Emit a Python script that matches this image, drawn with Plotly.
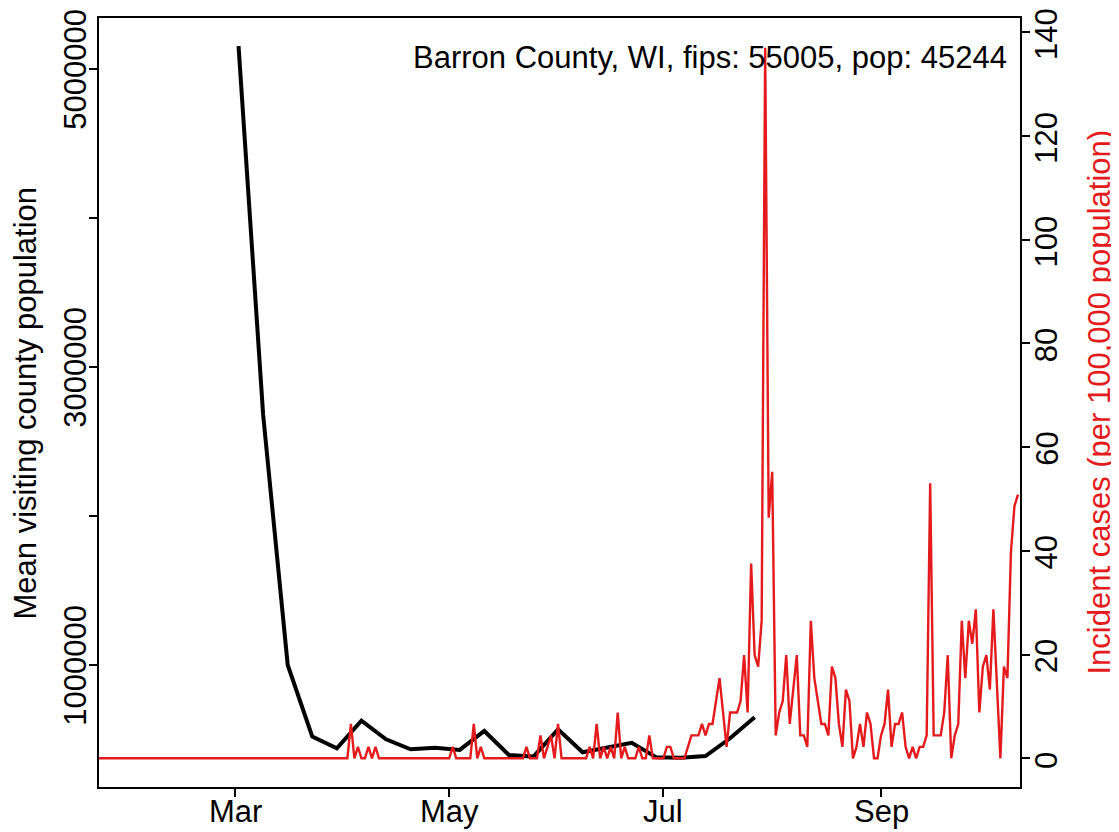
import pandas as pd
import plotly.graph_objects as go

# Weekly mean visiting county population (starting 2020-03-02)
mobility_start = "2020-03-02"
mobility = [5154000, 2680000, 1000000, 519000, 441000, 626000, 501000, 434000,
            445000, 430000, 557000, 396000, 385000, 568000, 414000, 444000,
            478000, 380000, 378000, 389000, 508000, 649000]

# Daily incident cases per 100,000 population (starting 2020-01-22)
cases_start = "2020-01-22"
incidence = [
    0, 0, 0, 0, 0, 0, 0, 0, 0, 0, 0, 0, 0, 0, 0, 0, 0, 0, 0, 0,
    0, 0, 0, 0, 0, 0, 0, 0, 0, 0, 0, 0, 0, 0, 0, 0, 0, 0, 0, 0,
    0, 0, 0, 0, 0, 0, 0, 0, 0, 0, 0, 0, 0, 0, 0, 0, 0, 0, 0, 0,
    0, 0, 0, 0, 0, 0, 0, 0, 0, 0, 0, 0,
    6.63, 0, 2.21, 0, 0, 2.21, 0, 2.21,
    0, 0, 0, 0, 0, 0, 0, 0, 0, 0, 0, 0, 0, 0, 0, 0, 0, 0, 0, 0, 0,
    2.21, 0, 0, 0, 0, 0, 6.63, 0, 2.21,
    0, 0, 0, 0, 0, 0, 0, 0, 0, 0, 0, 0,
    2.21, 0, 0, 0, 4.42, 0, 2.21, 4.42, 0, 6.63,
    0, 0, 0, 0, 0, 0, 0, 0,
    2.21, 0, 6.63, 0, 2.21, 0, 2.21, 0, 8.84, 0, 2.21, 0, 0, 0, 2.21, 0, 0, 4.42,
    0, 0, 0, 0, 2.21, 2.21, 0, 0, 0, 0,
    2.21, 4.42, 4.42, 4.42, 6.63, 4.42, 6.63, 6.63, 11.05, 15.47,
    8.84, 2.21, 8.84, 8.84, 8.84, 11.05, 19.89, 8.84, 37.57, 19.89,
    17.68, 26.52, 137.03, 46.41, 55.26, 4.42, 8.84, 11.05, 19.89, 6.63,
    13.26, 19.89, 4.42, 4.42, 2.21, 26.52, 15.47, 11.05, 6.63, 6.63,
    4.42, 17.68, 15.47, 6.63, 2.21, 13.26, 11.05, 0, 2.21, 6.63,
    2.21, 8.84, 6.63, 0, 0, 4.42, 6.63, 13.26, 2.21, 6.63,
    6.63, 8.84, 2.21, 0, 2.21, 0, 2.21, 2.21, 4.42, 53.05,
    4.42, 4.42, 4.42, 8.84, 19.89, 0, 4.42, 6.63, 26.52, 15.47,
    26.52, 22.10, 28.73, 8.84, 17.68, 19.89, 13.26, 28.73, 15.47, 0,
    17.68, 15.47, 39.78, 48.63, 50.84,
]

title_text = "Barron County, WI, fips: 55005, pop: 45244"
left_title = "Mean visiting county population"
right_title = "Incident cases (per 100,000 population)"
month_ticks = ["2020-03-01", "2020-05-01", "2020-07-01", "2020-09-01"]
month_labels = ["Mar", "May", "Jul", "Sep"]
left_tickvals = [1000000, 2000000, 3000000, 4000000, 5000000]
left_ticktext = ["1000000", "", "3000000", "", "5000000"]
right_tickvals = [0, 20, 40, 60, 80, 100, 120, 140]
right_ticktext = ["0", "20", "40", "60", "80", "100", "120", "140"]

RED = "#E41A1C"
FONT = "Liberation Sans, Arial, Helvetica, sans-serif"
FS = 31

mob_dates = pd.date_range(mobility_start, periods=len(mobility), freq="7D")
case_dates = pd.date_range(cases_start, periods=len(incidence), freq="D")

fig = go.Figure()
fig.add_trace(go.Scatter(x=mob_dates, y=mobility, mode="lines",
                         line=dict(color="black", width=4), yaxis="y",
                         showlegend=False, hoverinfo="skip"))
fig.add_trace(go.Scatter(x=case_dates, y=incidence, mode="lines",
                         line=dict(color=RED, width=2.4), yaxis="y2",
                         showlegend=False, hoverinfo="skip"))

axis_common = dict(showgrid=False, zeroline=False, showline=True,
                   linecolor="black", linewidth=2, ticks="outside",
                   ticklen=8, tickwidth=2, tickcolor="black", automargin=False,
                   showticklabels=False, tickmode="array")

def label(text, xref, yref, x, y, angle=0, color="black", xanchor="center",
          yshift=0):
    return dict(text=text, xref=xref, yref=yref, x=x, y=y, textangle=angle,
                xanchor=xanchor, yanchor="middle", showarrow=False,
                borderpad=0, yshift=yshift,
                font=dict(family=FONT, size=FS, color=color))

annotations = [
    label(title_text, "paper", "paper", 0.987, 0.948, xanchor="right"),
    label(left_title, "paper", "paper", -0.0793, 0.5, angle=-90),
    label(right_title, "paper", "paper", 1.0858, 0.5, angle=-90, color=RED),
]
for tv, tl in zip(month_ticks, month_labels):
    annotations.append(label(tl, "x", "paper", tv, -0.032))
for tv, tl in zip(left_tickvals, left_ticktext):
    if tl:
        annotations.append(label(tl, "paper", "y", -0.0252, tv, angle=-90))
for tv, tl in zip(right_tickvals, right_ticktext):
    annotations.append(label(tl, "paper", "y2", 1.0290, tv, angle=-90,
                             yshift=-2))

fig.update_layout(
    width=1111, height=824,
    margin=dict(l=91, r=99, t=10, b=45, pad=0, autoexpand=False),
    paper_bgcolor="white", plot_bgcolor="white",
    xaxis=dict(**axis_common, mirror=True, type="date",
               range=["2020-01-22 06:00", "2020-10-10 14:00"],
               tickvals=month_ticks, ticktext=month_labels),
    yaxis=dict(**axis_common, range=[181000, 5342000],
               tickvals=left_tickvals, ticktext=left_ticktext),
    yaxis2=dict(**axis_common, overlaying="y", side="right",
                range=[-5.53, 142.75], tickvals=right_tickvals,
                ticktext=right_ticktext),
    annotations=annotations,
)

fig.write_html("out.html")
